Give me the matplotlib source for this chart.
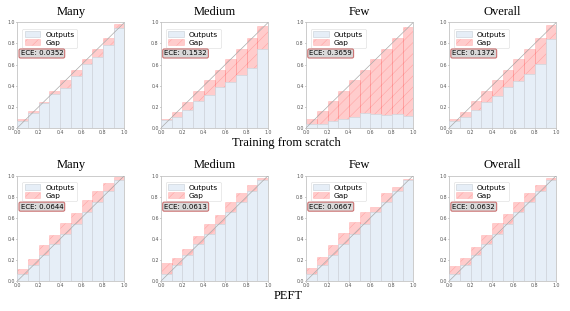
import numpy as np
import matplotlib
matplotlib.use('Agg')
import matplotlib.pyplot as plt

plt.rcParams['hatch.linewidth'] = 0.4

# reliability diagrams, 10 bins each
# outputs = lower bar (blue), gaps = upper edge of the red gap bar
titles = ["Many", "Medium", "Few", "Overall"]
row_labels = ["Training from scratch", "PEFT"]

scratch_outputs = [
    [0.063, 0.143, 0.232, 0.325, 0.38, 0.49, 0.606, 0.676, 0.787, 0.95],
    [0.07, 0.105, 0.17, 0.25, 0.315, 0.39, 0.43, 0.505, 0.57, 0.75],
    [0.035, 0.04, 0.065, 0.08, 0.10, 0.145, 0.13, 0.12, 0.135, 0.11],
    [0.065, 0.105, 0.165, 0.245, 0.30, 0.385, 0.44, 0.515, 0.61, 0.845],
]
scratch_gaps = [
    [0.083, 0.16, 0.245, 0.35, 0.45, 0.546, 0.65, 0.75, 0.85, 0.984],
    [0.08, 0.146, 0.245, 0.35, 0.45, 0.546, 0.65, 0.75, 0.855, 0.97],
    [0.08, 0.155, 0.25, 0.35, 0.45, 0.55, 0.65, 0.75, 0.85, 0.955],
    [0.08, 0.15, 0.25, 0.35, 0.45, 0.55, 0.65, 0.75, 0.85, 0.975],
]
scratch_ece = ["0.0352", "0.1532", "0.3659", "0.1372"]

peft_outputs = [
    [0.07, 0.15, 0.245, 0.35, 0.45, 0.545, 0.65, 0.75, 0.85, 0.955],
    [0.07, 0.15, 0.245, 0.35, 0.45, 0.545, 0.65, 0.75, 0.85, 0.955],
    [0.07, 0.15, 0.25, 0.35, 0.45, 0.545, 0.65, 0.75, 0.85, 0.955],
    [0.07, 0.15, 0.245, 0.35, 0.45, 0.545, 0.65, 0.75, 0.85, 0.955],
]
peft_gaps = [
    [0.11, 0.21, 0.34, 0.44, 0.55, 0.645, 0.765, 0.855, 0.93, 0.985],
    [0.17, 0.22, 0.305, 0.43, 0.54, 0.63, 0.75, 0.83, 0.91, 0.975],
    [0.12, 0.23, 0.345, 0.455, 0.56, 0.65, 0.70, 0.83, 0.89, 0.97],
    [0.14, 0.215, 0.325, 0.435, 0.55, 0.635, 0.745, 0.835, 0.91, 0.98],
]
peft_ece = ["0.0644", "0.0613", "0.0667", "0.0632"]

rows = [
    (scratch_outputs, scratch_gaps, scratch_ece),
    (peft_outputs, peft_gaps, peft_ece),
]

fig = plt.figure(figsize=(5.7, 3.11), dpi=100)

lefts = [0.0304, 0.2825, 0.537, 0.788]
bottoms = [0.589, 0.0965]
w, h = 0.188, 0.339

bin_size = 0.1
positions = np.arange(bin_size / 2, 1.0, bin_size)

for r, (outs, gaps, eces) in enumerate(rows):
    for c in range(4):
        ax = fig.add_axes([lefts[c], bottoms[r], w, h])
        ax.bar(positions, gaps[c], width=bin_size, color="#ff0000", alpha=0.2,
               edgecolor="#ff0000", hatch="///", linewidth=0.4, label="Gap", zorder=2)
        ax.bar(positions, outs[c], width=bin_size, color="#e6eef7",
               edgecolor="#cfd6dd", linewidth=0.5, label="Outputs", zorder=3)
        ax.plot([0, 1], [0, 1], color="#aaaaaa", lw=0.5, zorder=4)
        ax.set_xlim(0, 1)
        ax.set_ylim(0, 1)
        ax.set_xticks(np.arange(0, 1.01, 0.2))
        ax.set_yticks(np.arange(0, 1.01, 0.2))
        ax.tick_params(labelsize=3.4, length=1.0, width=0.4, pad=0.6,
                       colors="#555555")
        for s in ax.spines.values():
            s.set_color("#c4c4c4")
            s.set_linewidth(0.6)
        handles, labels = ax.get_legend_handles_labels()
        leg = ax.legend(handles[::-1], labels[::-1], loc="upper left",
                        fontsize=5.3, frameon=True, handlelength=2.1,
                        handleheight=0.8, borderpad=0.35, labelspacing=0.2,
                        handletextpad=0.7, fancybox=True,
                        bbox_to_anchor=(0.01, 0.975))
        leg.get_frame().set_linewidth(0.4)
        leg.get_frame().set_edgecolor("#d0d0d0")
        ax.text(0.03, 0.705, "ECE: " + eces[c], transform=ax.transAxes,
                fontsize=5.0, va="center", ha="left", zorder=6,
                bbox=dict(boxstyle="round,pad=0.22", facecolor="#d5d5d5",
                          edgecolor="#c86464", linewidth=0.8, alpha=0.9))
        fig.text(lefts[c] + w / 2, bottoms[r] + h + 0.035, titles[c],
                 ha="center", va="center", fontsize=9,
                 family="Liberation Serif")

fig.text(0.502, 0.54, row_labels[0], ha="center", va="center",
         fontsize=9, family="Liberation Serif")
fig.text(0.505, 0.048, row_labels[1], ha="center", va="center",
         fontsize=9, family="Liberation Serif")

fig.savefig("out.png", dpi=100)
